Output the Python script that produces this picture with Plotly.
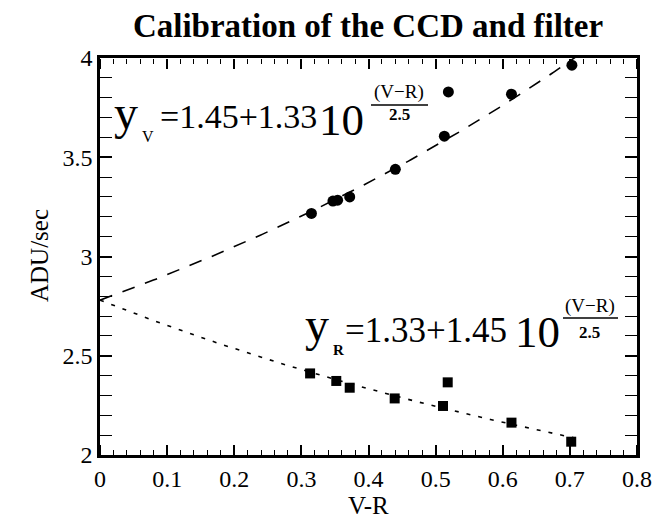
import numpy as np
import plotly.graph_objects as go

# ---- data ----
vr_V = [0.315, 0.347, 0.354, 0.372, 0.440, 0.513, 0.519, 0.613, 0.703]
adu_V = [3.217, 3.279, 3.284, 3.300, 3.439, 3.606, 3.829, 3.818, 3.964]

vr_R = [0.313, 0.352, 0.372, 0.439, 0.511, 0.518, 0.613, 0.702]
adu_R = [2.411, 2.373, 2.339, 2.285, 2.247, 2.366, 2.163, 2.067]

# fitted relations printed on the chart
fit_V = (1.45, 1.33)   # y_V = 1.45 + 1.33*10^((V-R)/2.5)
fit_R = (1.33, 1.45)   # y_R = 1.33 + 1.45*10^(-(V-R)/2.5)
fit_V_xmax = 0.72
fit_R_xmax = 0.71

x_tickvals = [0, 0.1, 0.2, 0.3, 0.4, 0.5, 0.6, 0.7, 0.8]
x_ticktext = ["0", "0.1", "0.2", "0.3", "0.4", "0.5", "0.6", "0.7", "0.8"]
y_tickvals = [2, 2.5, 3, 3.5, 4]
y_ticktext = ["2", "2.5", "3", "3.5", "4"]
x_range = [0, 0.8]
y_range = [2, 4]

FONT = "Liberation Serif"
W_FIG, H_FIG = 658, 527
L, R, T, B = 100, 21, 58, 72
PW, PH = W_FIG - L - R, H_FIG - T - B
BOT = H_FIG - B

xs_V = np.linspace(0, fit_V_xmax, 200)
ys_V = fit_V[0] + fit_V[1] * 10 ** (xs_V / 2.5)
xs_R = np.linspace(0, fit_R_xmax, 200)
ys_R = fit_R[0] + fit_R[1] * 10 ** (-xs_R / 2.5)

fig = go.Figure()
fig.add_trace(go.Scatter(x=xs_V, y=ys_V, mode="lines",
                         line=dict(color="black", width=1.6, dash="13px,11px"),
                         showlegend=False, hoverinfo="skip"))
fig.add_trace(go.Scatter(x=xs_R, y=ys_R, mode="lines",
                         line=dict(color="black", width=1.6, dash="4px,8px"),
                         showlegend=False, hoverinfo="skip"))
fig.add_trace(go.Scatter(x=vr_V, y=adu_V, mode="markers",
                         marker=dict(symbol="circle", size=11, color="black"),
                         showlegend=False))
fig.add_trace(go.Scatter(x=vr_R, y=adu_R, mode="markers",
                         marker=dict(symbol="square", size=10, color="black"),
                         showlegend=False))
# invisible helpers so the inward-tick overlay axes get drawn
for ax in ("x2", "x3"):
    fig.add_trace(go.Scatter(x=vr_V, y=adu_V, xaxis=ax, yaxis="y", mode="markers",
                             marker=dict(opacity=0), showlegend=False,
                             hoverinfo="skip"))


def px2paper(px, py):
    return (px - L) / PW, (BOT - py) / PH


annotations = []
shapes = []


def ann(text, px, base, size, xanchor="left", bold=False):
    cy = base - 0.3375 * size
    x, y = px2paper(px, cy)
    if bold:
        text = "<b>" + text + "</b>"
    annotations.append(dict(text=text, x=x, y=y, xref="paper", yref="paper",
                            xanchor=xanchor, yanchor="middle", showarrow=False,
                            borderpad=0,
                            font=dict(family=FONT, size=size, color="black")))


def frac_line(x0, x1, py):
    a, b = px2paper(x0, py)
    c, _ = px2paper(x1, py)
    shapes.append(dict(type="line", xref="paper", yref="paper", x0=a, x1=c,
                       y0=b, y1=b, line=dict(color="black", width=1.5)))


# top equation
ann("y", 113, 129, 48)
ann("V", 141, 142, 16)
ann("=1.45+1.33", 159, 128, 34)
ann("10", 318, 135, 45)
ann("(V\u2212R)", 399, 98, 19, xanchor="center")
frac_line(371, 428, 105)
ann("2.5", 399, 120, 17, xanchor="center", bold=True)

# bottom equation
ann("y", 304, 341, 48)
ann("R", 332, 355, 15, bold=True)
ann("=1.33+1.45", 344, 342, 35)
ann("10", 514, 347, 45)
ann("(V\u2212R)", 590, 312, 19, xanchor="center")
frac_line(563, 618, 318)
ann("2.5", 589, 338, 17, xanchor="center", bold=True)

# axis titles
x, y = px2paper(368, 505)
annotations.append(dict(text="V-R", x=x, y=y, xref="paper", yref="paper",
                        xanchor="center", yanchor="middle", showarrow=False,
                        font=dict(family=FONT, size=25, color="black")))
x, y = px2paper(40, 256)
annotations.append(dict(text="ADU/sec", x=x, y=y, xref="paper", yref="paper",
                        xanchor="center", yanchor="middle", showarrow=False,
                        textangle=-90,
                        font=dict(family=FONT, size=25, color="black")))

tick_overlay = dict(overlaying="x", anchor="free", range=x_range,
                    tickmode="array", tickvals=x_tickvals,
                    showticklabels=False, showline=False, showgrid=False,
                    zeroline=False, ticks="outside", ticklen=10, tickwidth=1.5,
                    tickcolor="black",
                    minor=dict(dtick=0.02, tick0=0, ticklen=5, ticks="outside",
                               tickcolor="black", tickwidth=1.2, showgrid=False))

fig.update_layout(
    template="none",
    width=W_FIG, height=H_FIG,
    margin=dict(l=L, r=R, t=T, b=B),
    paper_bgcolor="white", plot_bgcolor="white",
    title=dict(text="<b>Calibration of the CCD and filter</b>", x=368 / W_FIG,
               xanchor="center", y=1 - 25 / H_FIG, yanchor="middle",
               font=dict(family=FONT, size=33, color="black")),
    annotations=annotations,
    shapes=shapes,
    xaxis=dict(range=x_range, tickmode="array", tickvals=x_tickvals,
               ticktext=x_ticktext, showline=True, linecolor="black",
               linewidth=2.5, mirror=True, ticks="", showgrid=False,
               zeroline=False, tickfont=dict(family=FONT, size=24, color="black")),
    xaxis2=dict(side="top", position=0, **tick_overlay),
    xaxis3=dict(side="bottom", position=1, **tick_overlay),
    yaxis=dict(range=y_range, tickmode="array", tickvals=y_tickvals,
               ticktext=y_ticktext, showline=True, linecolor="black",
               linewidth=2.5, mirror="allticks", ticks="inside", ticklen=12,
               tickwidth=1.5, tickcolor="black", showgrid=False, zeroline=False,
               tickfont=dict(family=FONT, size=24, color="black"),
               minor=dict(dtick=0.1, tick0=2, ticklen=6, ticks="inside",
                          tickcolor="black", tickwidth=1.2, showgrid=False)),
)

fig.write_html("out.html")
